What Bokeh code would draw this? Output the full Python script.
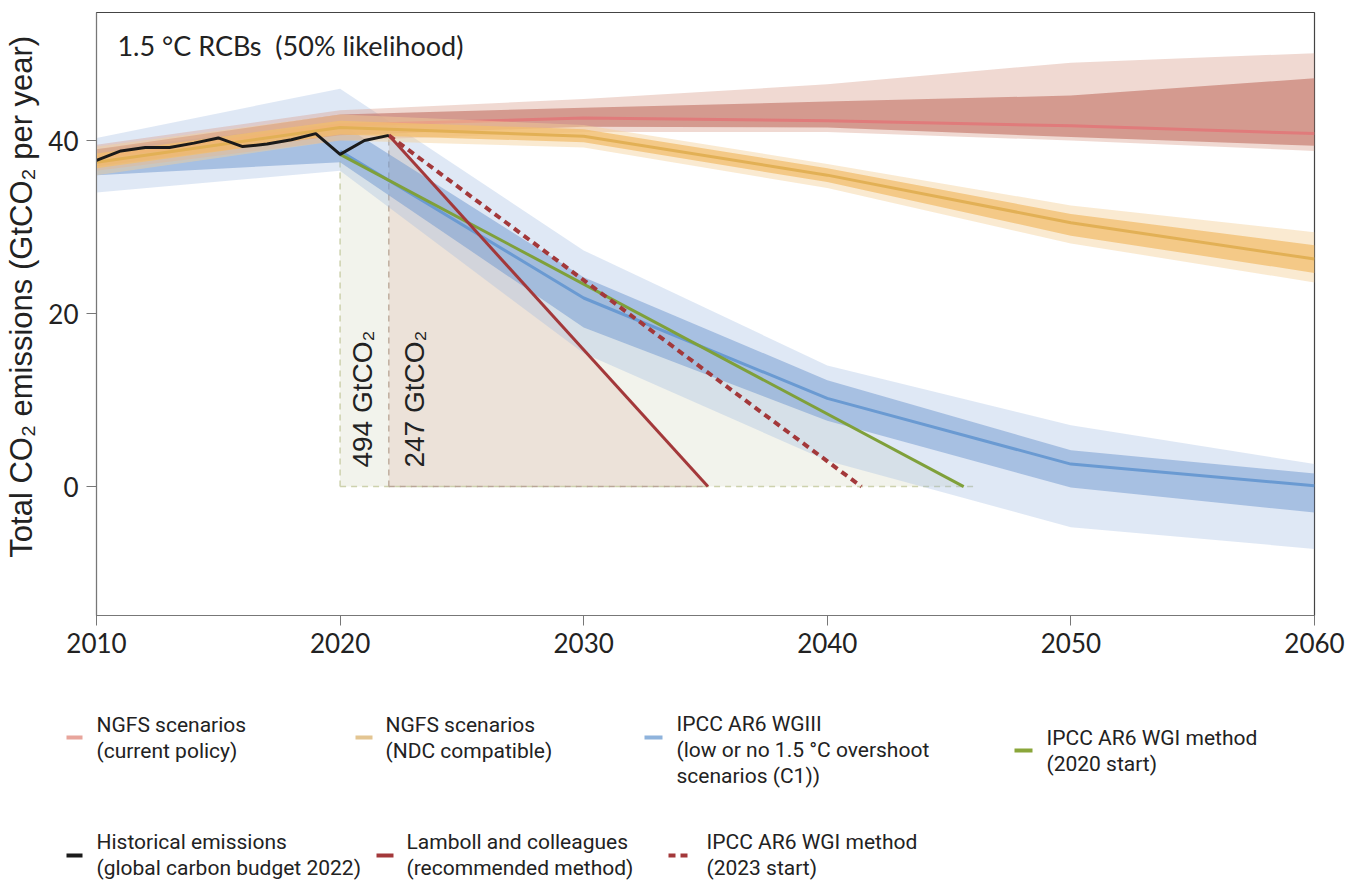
from math import pi
from bokeh.plotting import figure
from bokeh.models import Range1d, FixedTicker
from bokeh.layouts import column, row
from bokeh.embed import file_html
from bokeh.resources import INLINE
from bokeh.core.properties import value

# ---------------- data ----------------
hist_years = [2010, 2011, 2012, 2013, 2014, 2015, 2016, 2017, 2018, 2019, 2020, 2021, 2022]
hist_vals = [37.7, 38.8, 39.2, 39.2, 39.7, 40.3, 39.3, 39.6, 40.1, 40.8, 38.4, 40.0, 40.6]

scen_years = [2010, 2020, 2030, 2040, 2050, 2060]

# NGFS current policy
cp_med = [38.0, 41.8, 42.6, 42.3, 41.7, 40.8]
cp_lo_in = [37.0, 40.6, 41.6, 41.5, 40.4, 39.4]
cp_hi_in = [39.0, 43.0, 43.8, 44.5, 45.2, 47.2]
cp_lo_out = [36.5, 40.0, 41.0, 41.0, 40.0, 38.8]
cp_hi_out = [39.5, 43.5, 44.8, 46.5, 49.0, 50.1]

# NGFS NDC compatible
ndc_med = [37.5, 41.5, 40.5, 36.0, 30.5, 26.3]
ndc_lo_in = [36.8, 40.7, 39.8, 35.2, 29.0, 24.7]
ndc_hi_in = [38.5, 42.3, 41.3, 36.8, 31.5, 27.9]
ndc_lo_out = [36.0, 40.0, 39.2, 34.5, 28.1, 23.6]
ndc_hi_out = [39.3, 43.0, 41.8, 37.3, 32.5, 29.4]

# IPCC AR6 WGIII C1
c1_med = [37.5, 38.8, 21.8, 10.2, 2.6, 0.1]
c1_lo_in = [36.0, 37.5, 18.4, 7.6, -0.1, -3.0]
c1_hi_in = [39.0, 42.0, 24.2, 12.3, 4.2, 1.5]
c1_lo_out = [34.0, 36.5, 15.4, 3.0, -4.7, -7.2]
c1_hi_out = [40.3, 46.0, 27.3, 14.0, 7.1, 2.6]

# budget pathways (start year/value -> net-zero year)
wg1_2020_years = [2020, 2045.6]
wg1_2020_vals = [38.4, 0.0]
lamboll_years = [2022, 2035.1]
lamboll_vals = [40.6, 0.0]
wg1_2023_years = [2022, 2041.4]
wg1_2023_vals = [40.6, 0.0]

budget_labels = ["494 GtCO\u2082", "247 GtCO\u2082"]
x_ticks = [2010, 2020, 2030, 2040, 2050, 2060]
y_ticks = [0, 20, 40]

# ---------------- main figure ----------------
p = figure(frame_width=1218, frame_height=603, output_backend="svg", toolbar_location=None,
           x_range=Range1d(2010, 2060), y_range=Range1d(-14.9, 54.8),
           min_border_left=96, min_border_right=41, min_border_top=12, min_border_bottom=48,
           align="start")
p.grid.visible = False
p.outline_line_color = "#444444"
p.outline_line_width = 1.2
p.background_fill_color = "white"
p.border_fill_color = "white"

# budget triangles
p.patch(x=[wg1_2020_years[0], wg1_2020_years[1], wg1_2020_years[0]],
        y=[wg1_2020_vals[0], wg1_2020_vals[1], 0], fill_color="#f2f3ec", line_color=None)
p.patch(x=[lamboll_years[0], lamboll_years[1], lamboll_years[0]],
        y=[lamboll_vals[0], lamboll_vals[1], 0], fill_color="#ece2d9", line_color=None)
# dashed guides
p.line([wg1_2020_years[0], wg1_2020_years[0]], [0, wg1_2020_vals[0]], line_color="#cdd1ad",
       line_width=1.5, line_dash="6 5")
p.line([wg1_2020_years[0], wg1_2020_years[1] + 0.4], [0, 0], line_color="#cdd1ad",
       line_width=1.5, line_dash="6 5")
p.line([lamboll_years[0], lamboll_years[0]], [0, lamboll_vals[0]], line_color="#bfae9e",
       line_width=1.5, line_dash="6 5")
p.line([lamboll_years[0], lamboll_years[1]], [0, 0], line_color="#b9a696",
       line_width=1.5, line_dash="6 5")

# scenario bands
p.varea(x=scen_years, y1=c1_lo_out, y2=c1_hi_out, fill_color="#9ab8e0", fill_alpha=0.32)
p.varea(x=scen_years, y1=c1_lo_in, y2=c1_hi_in, fill_color="#6f98cf", fill_alpha=0.5)
p.line(scen_years[1:], c1_med[1:], line_color="#6a9ad2", line_width=3)
p.varea(x=scen_years, y1=cp_lo_out, y2=cp_hi_out, fill_color="#d9a08f", fill_alpha=0.4)
p.varea(x=scen_years, y1=cp_lo_in, y2=cp_hi_in, fill_color="#c87f72", fill_alpha=0.7)
p.line(scen_years, cp_med, line_color="#e07b7b", line_width=3)
p.varea(x=scen_years, y1=ndc_lo_out, y2=ndc_hi_out, fill_color="#f5d09a", fill_alpha=0.45)
p.varea(x=scen_years, y1=ndc_lo_in, y2=ndc_hi_in, fill_color="#f2bd6e", fill_alpha=0.75)
p.line(scen_years, ndc_med, line_color="#e2b055", line_width=3)

# pathways
p.line(wg1_2020_years, wg1_2020_vals, line_color="#7fa03a", line_width=3)
p.line(wg1_2023_years, wg1_2023_vals, line_color="#a3383a", line_width=4, line_dash="7 5")
p.line(lamboll_years, lamboll_vals, line_color="#a3383a", line_width=3)
p.line(hist_years, hist_vals, line_color="#1a1a1a", line_width=3)

# texts
p.text(x=[2010.86], y=[51.0], text=["1.5 \u00b0C RCBs\u00a0\u00a0(50% likelihood)"],
       text_font=value("Lato"), text_font_size="27px", text_color="#222222",
       text_baseline="middle", text_align="left")
p.text(x=[wg1_2020_years[0] + 0.9, lamboll_years[0] + 1.05], y=[2.2, 2.2], text=budget_labels,
       angle=pi / 2, text_font=value("Liberation Sans"), text_font_size="28px",
       text_color="#222222", text_baseline="middle", text_align="left")

# axes
for ax in (p.xaxis[0], p.yaxis[0]):
    ax.major_tick_out = 10
    ax.major_tick_in = 0
    ax.minor_tick_line_color = None
    ax.axis_line_color = "#777777"
    ax.major_tick_line_color = "#777777"
    ax.major_label_text_font = "Lato"
    ax.major_label_text_font_size = "26px"
    ax.major_label_text_color = "#222222"
p.xaxis.ticker = FixedTicker(ticks=x_ticks)
p.yaxis.ticker = FixedTicker(ticks=y_ticks)
p.xaxis.major_label_standoff = 7
p.yaxis.major_label_standoff = 8
p.yaxis.axis_label = "\u00a0\u00a0\u00a0\u00a0Total CO\u2082 emissions (GtCO\u2082 per year)"
p.yaxis.axis_label_text_font = "Liberation Sans"
p.yaxis.axis_label_text_font_size = "31px"
p.yaxis.axis_label_text_font_style = "normal"
p.yaxis.axis_label_text_color = "#222222"
p.yaxis.axis_label_standoff = 6

# ---------------- legend figure ----------------
main_h = 12 + 603 + 48
leg_w, leg_h = 1355, 884 - main_h
leg = figure(frame_width=leg_w, frame_height=leg_h, output_backend="svg", toolbar_location=None,
             x_range=Range1d(0, leg_w), y_range=Range1d(leg_h, 0),
             x_axis_location=None, y_axis_location=None, align="start",
             min_border=0, min_border_left=0, min_border_right=0, min_border_top=0, min_border_bottom=0)
leg.grid.visible = False
leg.outline_line_color = None
leg.background_fill_color = "white"
leg.border_fill_color = "white"

oy = main_h  # legend coordinates = reference pixels shifted by the main figure height

legend_items = [
    # (swatch x0, x1, y, color, dash, text x, [lines], first line y)
    (66, 82, 737, "#e8a59c", "solid", 96, ["NGFS scenarios", "(current policy)"], 724),
    (355, 372, 737, "#e3c592", "solid", 385, ["NGFS scenarios", "(NDC compatible)"], 724),
    (644, 662, 737, "#8fb3dc", "solid", 676, ["IPCC AR6 WGIII", "(low or no 1.5 \u00b0C overshoot", "scenarios (C1))"], 723),
    (1014, 1032, 750, "#8aa63a", "solid", 1046, ["IPCC AR6 WGI method", "(2020 start)"], 737),
    (66, 82, 855, "#1a1a1a", "solid", 96, ["Historical emissions", "(global carbon budget 2022)"], 841),
    (376, 393, 855, "#a3383a", "solid", 406, ["Lamboll and colleagues", "(recommended method)"], 841),
    (668, 690, 855, "#a3383a", "7 5", 706, ["IPCC AR6 WGI method", "(2023 start)"], 841),
]
for x0, x1, y, col, dash, tx, lines, ly in legend_items:
    leg.line([x0, x1], [y - oy, y - oy], line_color=col, line_width=4, line_dash=dash)
    leg.text(x=[tx] * len(lines), y=[ly - oy + 26.3 * i for i in range(len(lines))], text=lines,
             text_font=value("Roboto"), text_font_size="21px", text_color="#222222",
             text_baseline="middle", text_align="left")

layout = column(p, row(leg, align="start"), spacing=0, align="start")
open("out.html", "w").write(file_html(layout, INLINE))
